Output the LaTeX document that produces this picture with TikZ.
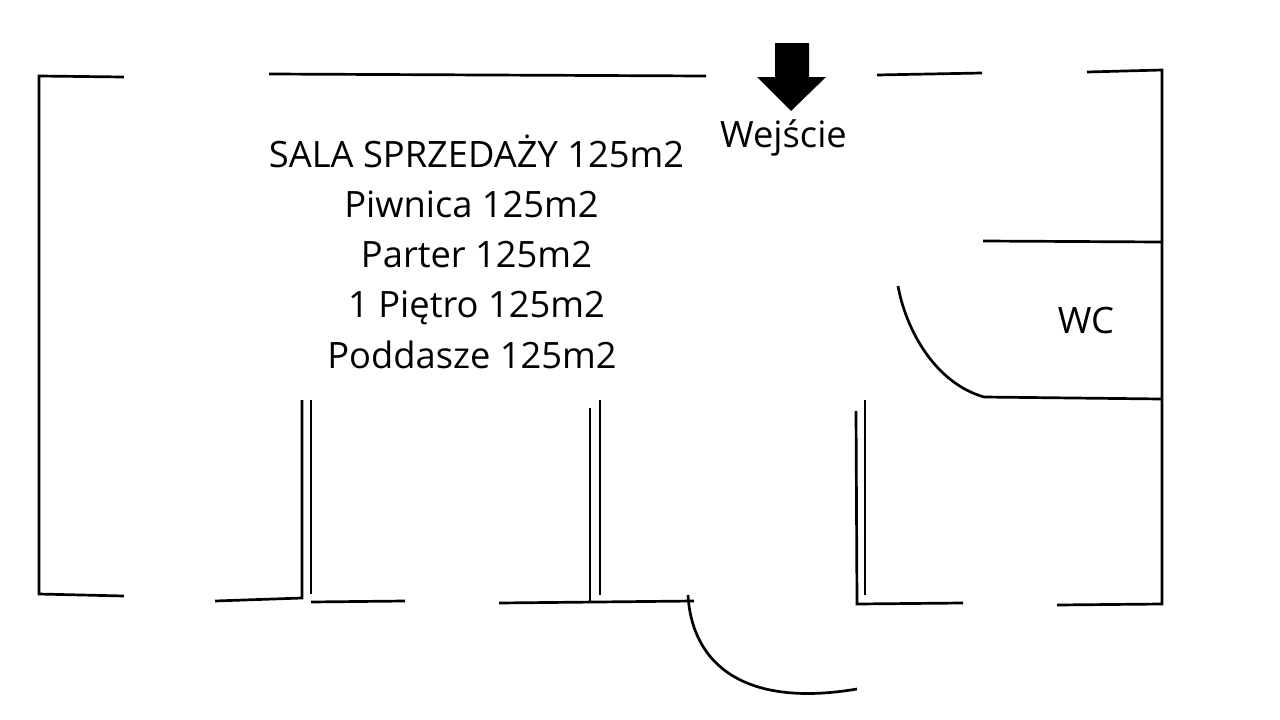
\documentclass[tikz,border=0pt]{standalone}
\usepackage{fontspec}
\setmainfont{Open Sans}
\tikzset{wall/.style={line width=2.7pt,black},lbl/.style={font=\fontsize{36.3pt}{40pt}\selectfont,inner sep=0pt,text=black,anchor=base}}
\begin{document}
\begin{tikzpicture}[x=1pt,y=-1pt]
\useasboundingbox (0,0) rectangle (1280,720);
\fill[white] (0,0) rectangle (1280,720);
\draw[wall] (124,77)--(39,76)--(39,594)--(124,596);
\draw[wall] (269,74)--(706,76);
\draw[wall] (877,75)--(982,73);
\draw[wall] (1087,72)--(1162,70)--(1162,604)--(1057,605);
\draw[wall] (983,241)--(1162,242);
\draw[wall] (984,397)--(1162,399);
\draw[wall] (898,286) .. controls (906,330) and (935,383) .. (984,397);
\draw[wall] (215,601)--(302,598)--(302,400);
\draw[wall] (311,400)--(311,594);
\draw[wall] (311,602)--(405,601);
\draw[wall] (499,603)--(694,601);
\draw[wall] (590,603)--(590,408);
\draw[wall] (600,400)--(600,595);
\draw[wall] (688,595) .. controls (692,665) and (745,708) .. (857,689);
\draw[wall] (856,411)--(857,604)--(963,603);
\draw[wall] (865,400)--(865,595);
\fill[black] (775,43)--(809,43)--(809,77)--(826,77)--(791,111)--(757,77)--(775,77)--cycle;
\node[lbl] (w) at (783.5,147) {Wejście};
\node[lbl] (a) at (476.5,167) {SALA SPRZEDAŻY 125m2};
\node[lbl] (b) at (471.5,217) {Piwnica 125m2};
\node[lbl] (c) at (476.5,267) {Parter 125m2};
\node[lbl] (d) at (476.5,317) {1 Piętro 125m2};
\node[lbl] (e) at (472,368) {Poddasze 125m2};
\node[lbl] (f) at (1086,333) {WC};
\end{tikzpicture}
\end{document}
